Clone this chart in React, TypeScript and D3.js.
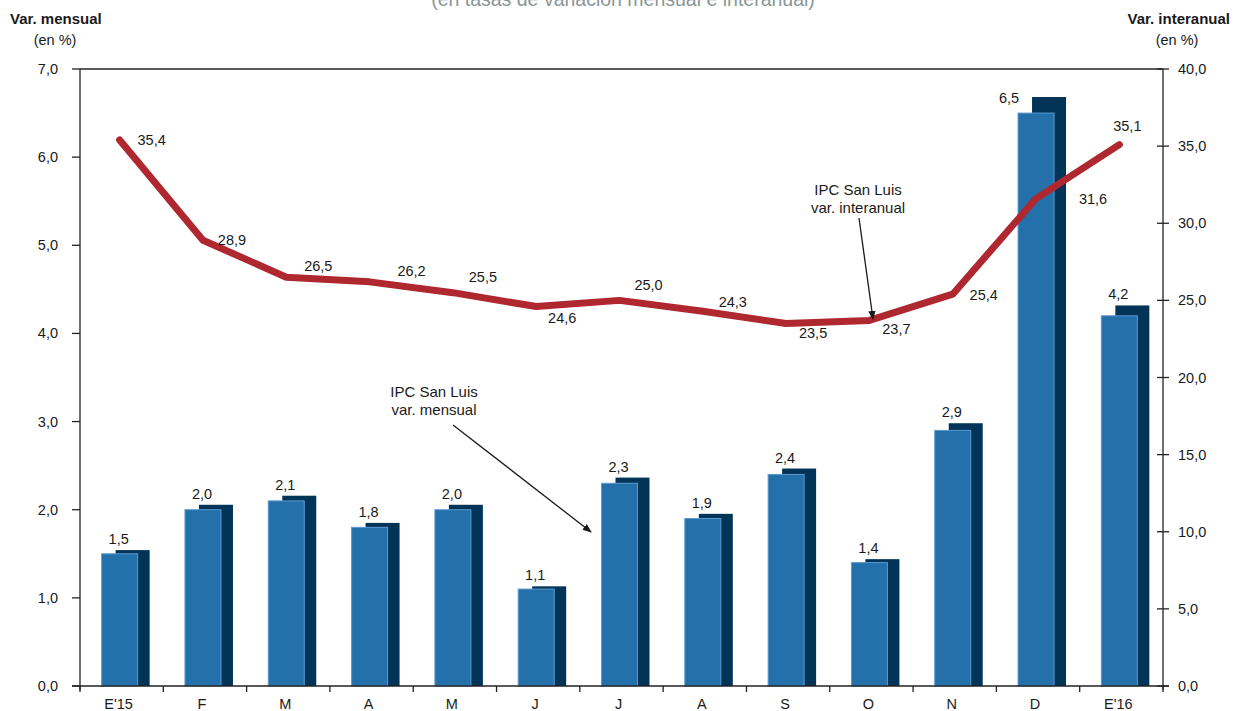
import React from "react";
import * as d3 from "d3";

// Months (Jan 2015 – Jan 2016)
const months = ["E'15", "F", "M", "A", "M", "J", "J", "A", "S", "O", "N", "D", "E'16"];
// IPC San Luis: monthly change (%)
const monthly = [1.5, 2.0, 2.1, 1.8, 2.0, 1.1, 2.3, 1.9, 2.4, 1.4, 2.9, 6.5, 4.2];
// IPC San Luis: year-on-year change (%)
const yearly = [35.4, 28.9, 26.5, 26.2, 25.5, 24.6, 25.0, 24.3, 23.5, 23.7, 25.4, 31.6, 35.1];
const leftTicks = [0, 1, 2, 3, 4, 5, 6, 7];
const rightTicks = [0, 5, 10, 15, 20, 25, 30, 35, 40];

// offset of each year-on-year label from its point: [dx, dy]
const lineLabelOffset: [number, number][] = [
  [32, 5],
  [29, 5],
  [32, -6],
  [42, -6],
  [30, -11],
  [26, 16],
  [29, -10],
  [30, -4],
  [27, 14],
  [27, 14],
  [31, 6],
  [57, 5],
  [8, -14],
];

const W = 1244;
const H = 711;
const M = { left: 80, right: 1163, top: 69, bottom: 686 };
const FONT = "'Liberation Sans', Arial, sans-serif";
const INK = "#1a1a1a";
const fmt = (v: number) => v.toFixed(1).replace(".", ",");

export default function App() {
  const x = d3.scaleBand<number>().domain(d3.range(months.length)).range([M.left, M.right]).padding(0);
  const yL = d3.scaleLinear().domain([0, 7]).range([M.bottom, M.top]);
  const yR = d3.scaleLinear().domain([0, 40]).range([M.bottom, M.top]);
  const bw = x.bandwidth();
  const cx = (i: number) => (x(i) as number) + bw / 2 - 2;

  const line = d3
    .line<number>()
    .x((_, i) => cx(i))
    .y((d) => yR(d));

  // the dark block behind each bar rises slightly above the face
  const depth = 1.028;

  return (
    <svg
      width={W}
      height={H}
      style={{ position: "absolute", left: 0, top: 0, background: "#fff" }}
      fontFamily={FONT}
    >
      {/* subtitle, partially above the frame */}
      <text x={623} y={6} textAnchor="middle" fontSize={19.5} fill="#8a9696">
        (en tasas de variación mensual e interanual)
      </text>

      {/* axis titles */}
      <text x={10} y={24} fontSize={15} fontWeight="bold" fill={INK}>Var. mensual</text>
      <text x={55} y={45} fontSize={14.5} textAnchor="middle" fill={INK}>(en %)</text>
      <text x={1230} y={24} fontSize={15} fontWeight="bold" textAnchor="end" fill={INK}>Var. interanual</text>
      <text x={1177} y={45} fontSize={14.5} textAnchor="middle" fill={INK}>(en %)</text>

      {/* bars: dark depth block behind, blue face in front */}
      {monthly.map((v, i) => (
        <g key={"b" + i}>
          <rect
            x={cx(i) - 4}
            y={yL(v * depth)}
            width={34}
            height={M.bottom - yL(v * depth)}
            fill="#023457"
          />
          <rect
            x={cx(i) - 18}
            y={yL(v)}
            width={36}
            height={M.bottom - yL(v)}
            fill="#2470aa"
            stroke="#5d9ad0"
            strokeWidth={1}
          />
        </g>
      ))}

      {/* bar labels */}
      {monthly.map((v, i) => (
        <text
          key={"bl" + i}
          x={cx(i) + (i === 11 ? -27 : -1)}
          y={i === 11 ? yL(v) - 10 : yL(v * depth) - 6}
          textAnchor="middle"
          fontSize={14.5}
          fill={INK}
        >
          {fmt(v)}
        </text>
      ))}

      {/* year-on-year line */}
      <path
        d={line(yearly) as string}
        fill="none"
        stroke="#b0282f"
        strokeWidth={7}
        strokeLinecap="round"
        strokeLinejoin="round"
      />
      {yearly.map((v, i) => {
        const [dx, dy] = lineLabelOffset[i];
        return (
          <text
            key={"ll" + i}
            x={cx(i) + dx}
            y={yR(v) + dy}
            textAnchor="middle"
            fontSize={14.5}
            fill={INK}
          >
            {fmt(v)}
          </text>
        );
      })}

      {/* frame and axes */}
      <line x1={M.left} x2={M.right} y1={M.top} y2={M.top} stroke="#222" strokeWidth={1.3} />
      <line x1={M.left} x2={M.left} y1={M.top} y2={M.bottom + 4} stroke="#222" strokeWidth={1.3} />
      <line x1={M.right} x2={M.right} y1={M.top} y2={M.bottom + 4} stroke="#222" strokeWidth={1.3} />
      <line x1={M.left - 8} x2={M.right + 6} y1={M.bottom} y2={M.bottom} stroke="#222" strokeWidth={1.3} />

      {leftTicks.map((t) => (
        <g key={"lt" + t}>
          <line x1={M.left - 8} x2={M.left} y1={yL(t)} y2={yL(t)} stroke="#222" strokeWidth={1.3} />
          <text x={58} y={yL(t) + 5} textAnchor="end" fontSize={14.5} fill={INK}>
            {fmt(t)}
          </text>
        </g>
      ))}
      {rightTicks.map((t) => (
        <g key={"rt" + t}>
          <line x1={M.right - 6} x2={M.right + 6} y1={yR(t)} y2={yR(t)} stroke="#222" strokeWidth={1.3} />
          <text x={1178} y={yR(t) + 5} textAnchor="start" fontSize={14.5} fill={INK}>
            {fmt(t)}
          </text>
        </g>
      ))}
      {d3.range(months.length + 1).map((k) => (
        <line
          key={"xt" + k}
          x1={M.left + k * bw}
          x2={M.left + k * bw}
          y1={M.bottom}
          y2={M.bottom + 6}
          stroke="#222"
          strokeWidth={1.3}
        />
      ))}
      {months.map((m, i) => (
        <text key={"xl" + i} x={cx(i) - 1} y={709} textAnchor="middle" fontSize={14.5} fill={INK}>
          {m}
        </text>
      ))}

      {/* annotations */}
      <defs>
        <marker id="arrow" viewBox="0 0 10 10" refX={9} refY={5} markerWidth={7} markerHeight={7} orient="auto">
          <path d="M0,1 L10,5 L0,9 Z" fill={INK} />
        </marker>
      </defs>
      <text x={434} y={397} textAnchor="middle" fontSize={15} fill={INK}>IPC San Luis</text>
      <text x={434} y={415} textAnchor="middle" fontSize={15} fill={INK}>var. mensual</text>
      <line x1={453} y1={425} x2={591} y2={532} stroke={INK} strokeWidth={1.3} markerEnd="url(#arrow)" />

      <text x={858} y={195} textAnchor="middle" fontSize={15} fill={INK}>IPC San Luis</text>
      <text x={858} y={213} textAnchor="middle" fontSize={15} fill={INK}>var. interanual</text>
      <line x1={859} y1={218} x2={873} y2={319} stroke={INK} strokeWidth={1.3} markerEnd="url(#arrow)" />
    </svg>
  );
}
